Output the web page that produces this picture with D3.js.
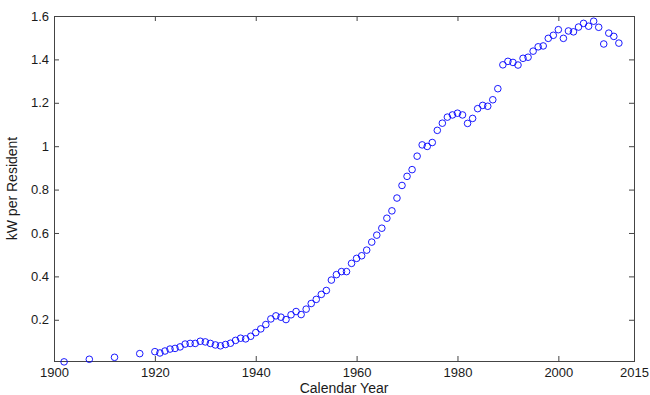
<!DOCTYPE html>
<html>
<head>
<meta charset="utf-8">
<script src="https://cdn.jsdelivr.net/npm/d3@7"></script>
<style>
  body { margin: 0; background: #fff; }
  svg { font-family: Arial, "Liberation Sans", sans-serif; }
  .tick text { fill: #1a1a1a; font-size: 13px; }
</style>
</head>
<body>
<div id="chart"></div>
<script>
// years (sparse before 1920, yearly after)
const years = [1902, 1907, 1912, 1917,
  1920, 1921, 1922, 1923, 1924, 1925, 1926, 1927, 1928, 1929,
  1930, 1931, 1932, 1933, 1934, 1935, 1936, 1937, 1938, 1939,
  1940, 1941, 1942, 1943, 1944, 1945, 1946, 1947, 1948, 1949,
  1950, 1951, 1952, 1953, 1954, 1955, 1956, 1957, 1958, 1959,
  1960, 1961, 1962, 1963, 1964, 1965, 1966, 1967, 1968, 1969,
  1970, 1971, 1972, 1973, 1974, 1975, 1976, 1977, 1978, 1979,
  1980, 1981, 1982, 1983, 1984, 1985, 1986, 1987, 1988, 1989,
  1990, 1991, 1992, 1993, 1994, 1995, 1996, 1997, 1998, 1999,
  2000, 2001, 2002, 2003, 2004, 2005, 2006, 2007, 2008, 2009,
  2010, 2011, 2012];

// kW per resident
const kwPerResident = [0.006, 0.018, 0.027, 0.044,
  0.053, 0.047, 0.056, 0.065, 0.068, 0.075, 0.088, 0.091, 0.091, 0.101,
  0.098, 0.091, 0.084, 0.080, 0.086, 0.092, 0.105, 0.115, 0.112, 0.124,
  0.141, 0.158, 0.178, 0.204, 0.218, 0.212, 0.201, 0.223, 0.238, 0.224,
  0.249, 0.275, 0.294, 0.317, 0.335, 0.383, 0.408, 0.422, 0.422, 0.460,
  0.483, 0.495, 0.521, 0.558, 0.590, 0.622, 0.668, 0.702, 0.761, 0.819,
  0.861, 0.892, 0.954, 1.006, 0.999, 1.017, 1.073, 1.106, 1.134, 1.144,
  1.152, 1.144, 1.105, 1.128, 1.173, 1.188, 1.184, 1.214, 1.265, 1.375,
  1.391, 1.386, 1.374, 1.405, 1.410, 1.438, 1.458, 1.462, 1.497, 1.511,
  1.537, 1.497, 1.531, 1.527, 1.549, 1.566, 1.553, 1.576, 1.548, 1.471,
  1.521, 1.506, 1.475];

const xTicks = [1900, 1920, 1940, 1960, 1980, 2000, 2015];
const yTicks = [0.2, 0.4, 0.6, 0.8, 1, 1.2, 1.4, 1.6];

var width = 650, height = 395;
var margin = {top: 16, right: 16, bottom: 34, left: 54};
var w = width - margin.left - margin.right,
    h = height - margin.top - margin.bottom;

var x = d3.scaleLinear().domain([1900, 2015]).range([0, w]);
var y = d3.scaleLinear().domain([0.01, 1.6]).range([h, 0]);

const svg = d3.select('#chart').append('svg')
  .attr('width', width)
  .attr('height', height)
  .append('g')
  .attr('transform', 'translate(' + margin.left + ',' + margin.top + ')');

var fmtY = d => d3.format('~g')(d);

// bottom + left axes with labels, ticks pointing inward
var xAxis = svg.append('g')
  .attr('transform', 'translate(0,' + h + ')')
  .call(d3.axisBottom(x).tickValues(xTicks).tickFormat(d3.format('d'))
    .tickSizeInner(-5).tickSizeOuter(0).tickPadding(7));
var yAxis = svg.append('g')
  .call(d3.axisLeft(y).tickValues(yTicks).tickFormat(fmtY)
    .tickSizeInner(-5).tickSizeOuter(0).tickPadding(5));

// top + right mirror ticks, no labels
var xTop = svg.append('g')
  .call(d3.axisTop(x).tickValues(xTicks).tickFormat('')
    .tickSizeInner(-5).tickSizeOuter(0));
var yRight = svg.append('g')
  .attr('transform', 'translate(' + w + ',0)')
  .call(d3.axisRight(y).tickValues(yTicks).tickFormat('')
    .tickSizeInner(-5).tickSizeOuter(0));

[xAxis, yAxis, xTop, yRight].forEach(function(a) {
  a.select('.domain').remove();
  a.selectAll('.tick line').attr('stroke', '#444');
});

// box
svg.append('rect')
  .attr('x', 0).attr('y', 0)
  .attr('width', w).attr('height', h)
  .attr('fill', 'none')
  .attr('stroke', '#444')
  .attr('stroke-width', 1)
  .attr('shape-rendering', 'crispEdges');

svg.append('g')
  .selectAll('circle')
  .data(years.map((yr, i) => ({year: yr, v: kwPerResident[i]})))
  .enter().append('circle')
  .attr('cx', d => x(d.year))
  .attr('cy', d => y(d.v))
  .attr('r', 3.3)
  .attr('fill', 'none')
  .attr('stroke', '#0000ff')
  .attr('stroke-width', 0.9);

svg.append('text')
  .attr('x', w / 2)
  .attr('y', h + 32)
  .attr('text-anchor', 'middle')
  .attr('font-size', 14)
  .attr('fill', '#1a1a1a')
  .text('Calendar Year');

svg.append('text')
  .attr('transform', 'translate(' + (-37) + ',' + (h / 2) + ') rotate(-90)')
  .attr('text-anchor', 'middle')
  .attr('font-size', 14)
  .attr('fill', '#1a1a1a')
  .text('kW per Resident');
</script>
</body>
</html>
